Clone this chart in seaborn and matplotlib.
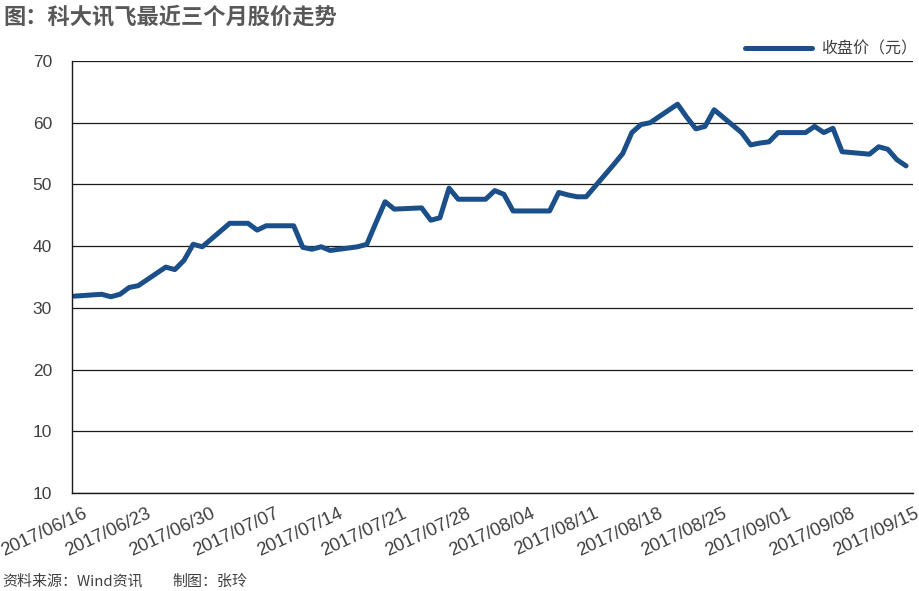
import pandas as pd
import numpy as np
import matplotlib.pyplot as plt
import matplotlib.dates as mdates
import matplotlib.transforms as mtransforms
import seaborn as sns

# closing price of iFlytek, one value per trading day
trade_days = pd.bdate_range('2017-06-16', '2017-09-15')
close_price = [
    31.9, 32.2, 31.8, 32.2, 33.3, 33.6,           # 06/16 - 06/23
    36.6, 36.2, 37.7, 40.3, 39.9,                 # 06/26 - 06/30
    43.7, 43.7, 43.7, 42.6, 43.3,                 # 07/03 - 07/07
    43.3, 39.8, 39.5, 39.9, 39.3,                 # 07/10 - 07/14
    39.9, 40.3, 43.8, 47.2, 46.0,                 # 07/17 - 07/21
    46.2, 44.2, 44.6, 49.4, 47.6,                 # 07/24 - 07/28
    47.6, 49.0, 48.4, 45.7, 45.7,                 # 07/31 - 08/04
    45.7, 48.7, 48.3, 48.0, 48.0,                 # 08/07 - 08/11
    53.2, 55.0, 58.4, 59.7, 60.0,                 # 08/14 - 08/18
    63.0, 60.9, 59.0, 59.4, 62.1,                 # 08/21 - 08/25
    58.4, 56.4, 56.7, 56.9, 58.4,                 # 08/28 - 09/01
    58.4, 59.4, 58.4, 59.1, 55.3,                 # 09/04 - 09/08
    54.9, 56.1, 55.7, 54.0, 53.0,                 # 09/11 - 09/15
]
week_ticks = pd.date_range('2017-06-16', '2017-09-15', freq='7D')
y_ticks = [0, 10, 20, 30, 40, 50, 60, 70]
y_tick_labels = ['10', '10', '20', '30', '40', '50', '60', '70']

df = pd.DataFrame({'date': trade_days, 'close': close_price})

sns.set_style('white')
plt.rcParams['font.family'] = ['Liberation Sans', 'Noto Sans CJK SC', 'DejaVu Sans']

text_col = '#404040'
line_col = '#1b4f8a'
cjk = ['Noto Sans CJK SC', 'DejaVu Sans']

fig = plt.figure(figsize=(9.2, 5.91), dpi=100)
ax = fig.add_axes([0.0783, 0.1658, 0.914, 0.731])

sns.lineplot(data=df, x='date', y='close', ax=ax, color=line_col,
             linewidth=3.6, label='收盘价（元）')

ax.set_ylim(0, 70)
ax.set_yticks(y_ticks)
ax.set_yticklabels(y_tick_labels)
left = pd.Timestamp('2017-06-16') - pd.Timedelta(hours=6)
ax.set_xlim(left, left + pd.Timedelta(days=92))
ax.set_xticks(week_ticks)
ax.xaxis.set_major_formatter(mdates.DateFormatter('%Y/%m/%d'))
ax.set_xlabel('')
ax.set_ylabel('')

ax.grid(axis='y', color='#1a1a1a', linewidth=0.9)
ax.set_axisbelow(True)
for s in ['top', 'right']:
    ax.spines[s].set_visible(False)
for s in ['left', 'bottom']:
    ax.spines[s].set_color('#1a1a1a')
    ax.spines[s].set_linewidth(1.0)

ax.tick_params(axis='both', direction='out', length=4.5, width=0.9,
               color='#1a1a1a', labelsize=12.5, labelcolor=text_col)
ax.tick_params(axis='y', pad=10)
ax.tick_params(axis='x', labelsize=13.3, pad=4)
shift = mtransforms.ScaledTranslation(8 / 100, 0, fig.dpi_scale_trans)
for lab in ax.get_xticklabels():
    lab.set_rotation(25)
    lab.set_ha('right')
    lab.set_rotation_mode('anchor')
    lab.set_transform(lab.get_transform() + shift)

leg = ax.legend(loc='lower right', bbox_to_anchor=(1.009, 1.0), frameon=False,
                fontsize=11.5, handlelength=4.2, handletextpad=0.6,
                borderaxespad=0.1, borderpad=0.1)
for t in leg.get_texts():
    t.set_color(text_col)
    t.set_family(cjk)

fig.text(0.004, 0.972, '图：科大讯飞最近三个月股价走势', fontsize=16,
         fontweight='bold', color='#585858', va='center', ha='left', family=cjk)
fig.text(0.002, 0.016, '资料来源：Wind资讯', fontsize=10.8,
         color=text_col, va='center', ha='left', family=cjk)
fig.text(0.187, 0.016, '制图：张玲', fontsize=10.8,
         color=text_col, va='center', ha='left', family=cjk)

plt.savefig('out.png', dpi=100)
